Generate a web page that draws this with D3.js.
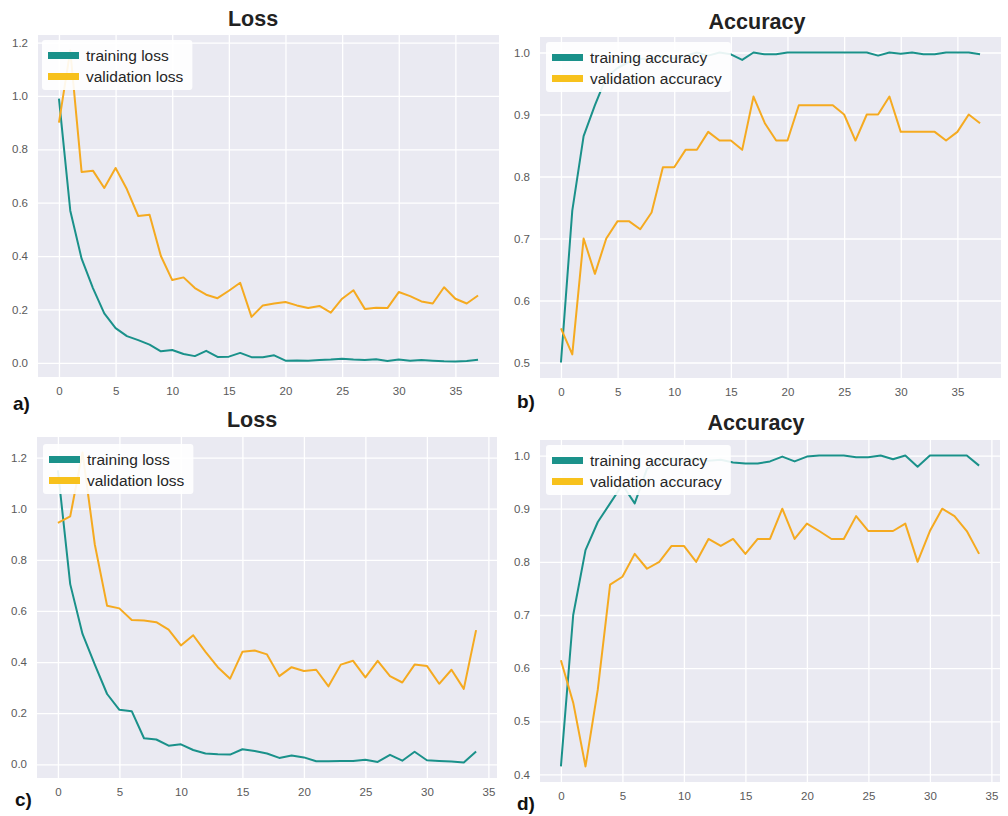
<!DOCTYPE html>
<html>
<head>
<meta charset="utf-8">
<script src="https://cdn.jsdelivr.net/npm/d3@7"></script>
<style>
body{margin:0;background:#ffffff;}
</style>
</head>
<body>
<svg id="chart"></svg>
<script>
// a) loss, first run
var lossTrainA=[0.99,0.57,0.39,0.28,0.185,0.13,0.10,0.085,0.068,0.043,0.048,0.033,0.025,0.045,0.022,0.023,0.037,0.021,0.021,0.028,0.008,0.009,0.008,0.010,0.012,0.015,0.012,0.010,0.013,0.007,0.012,0.008,0.010,0.008,0.006,0.005,0.007,0.011];
var lossValA=[0.90,1.17,0.715,0.72,0.655,0.73,0.65,0.55,0.555,0.40,0.31,0.32,0.28,0.255,0.242,0.27,0.30,0.172,0.215,0.222,0.228,0.215,0.205,0.213,0.188,0.24,0.272,0.202,0.206,0.205,0.265,0.25,0.23,0.222,0.283,0.24,0.222,0.252];
// b) accuracy, first run
var accTrainB=[0.50,0.745,0.865,0.915,0.96,0.975,0.985,0.99,0.99,0.995,0.99,0.995,1.0,0.995,1.0,0.997,0.988,1.0,0.997,0.997,1.0,1.0,1.0,1.0,1.0,1.0,1.0,1.0,0.995,1.0,0.998,1.0,0.997,0.997,1.0,1.0,1.0,0.997];
var accValB=[0.555,0.513,0.70,0.643,0.70,0.728,0.728,0.715,0.742,0.815,0.815,0.843,0.843,0.872,0.858,0.858,0.843,0.929,0.886,0.858,0.858,0.915,0.915,0.915,0.915,0.90,0.858,0.90,0.90,0.929,0.872,0.872,0.872,0.872,0.858,0.872,0.90,0.886];
// c) loss, second run
var lossTrainC=[1.15,0.705,0.51,0.39,0.275,0.213,0.208,0.102,0.097,0.073,0.078,0.056,0.042,0.039,0.038,0.059,0.052,0.042,0.025,0.034,0.027,0.012,0.012,0.013,0.013,0.018,0.009,0.037,0.014,0.049,0.016,0.013,0.011,0.007,0.05];
var lossValC=[0.945,0.97,1.22,0.86,0.62,0.61,0.565,0.563,0.556,0.527,0.465,0.505,0.44,0.38,0.335,0.44,0.445,0.43,0.345,0.38,0.365,0.37,0.305,0.39,0.405,0.34,0.405,0.345,0.32,0.39,0.385,0.315,0.37,0.295,0.525];
// d) accuracy, second run
var accTrainD=[0.415,0.70,0.822,0.875,0.91,0.945,0.91,0.975,0.99,0.995,0.99,0.995,0.99,0.992,0.987,0.985,0.985,0.989,0.998,0.989,0.998,1.0,1.0,1.0,0.997,0.997,1.0,0.993,1.0,0.979,1.0,1.0,1.0,1.0,0.981];
var accValD=[0.615,0.535,0.415,0.56,0.757,0.772,0.815,0.787,0.80,0.83,0.83,0.80,0.843,0.83,0.843,0.815,0.843,0.843,0.90,0.843,0.872,0.858,0.843,0.843,0.886,0.858,0.858,0.858,0.872,0.80,0.858,0.90,0.886,0.858,0.815];

var xTicks=[0,5,10,15,20,25,30,35];
var yTicksLoss=[0,0.2,0.4,0.6,0.8,1.0,1.2];
var yTicksAccB=[0.5,0.6,0.7,0.8,0.9,1.0];
var yTicksAccD=[0.4,0.5,0.6,0.7,0.8,0.9,1.0];
var legendLoss=["training loss","validation loss"];
var legendAcc=["training accuracy","validation accuracy"];

var tealColor="#1a918a";
var goldColor="#f5aa20";
var goldSwatch="#f7c11c";
var fontName="'Liberation Sans', Arial, sans-serif";

var svg=d3.select("#chart").attr("width",1008).attr("height",816);
svg.append("rect").attr("width",1008).attr("height",816).attr("fill","#ffffff");

function drawPanel(p) {
var n=p.train.length-1;
var ext=d3.extent(p.train.concat(p.val));
var pad=(ext[1]-ext[0])*0.05;
var x=d3.scaleLinear().domain([-0.05*n,n*1.05]).range([p.left,p.right]);
var y=d3.scaleLinear().domain([ext[0]-pad,ext[1]+pad]).range([p.bottom,p.top]);
var g=svg.append("g");
g.append("rect").attr("x",p.left).attr("y",p.top).attr("width",p.right-p.left).attr("height",p.bottom-p.top).attr("fill","#eaeaf2");

var ya=g.append("g").attr("transform","translate("+p.left+",0)")
	.call(d3.axisLeft(y).tickValues(p.yTicks).tickFormat(d3.format(".1f")).tickSize(-(p.right-p.left)).tickPadding(10));
var xa=g.append("g").attr("transform","translate(0,"+p.bottom+")")
	.call(d3.axisBottom(x).tickValues(xTicks).tickFormat(d3.format("d")).tickSize(-(p.bottom-p.top)).tickPadding(10));
[ya,xa].forEach(function(a){
	a.select(".domain").remove();
	a.selectAll("line").attr("stroke","#ffffff").attr("stroke-width",1.3);
	a.selectAll("text").attr("fill","#5a5a5a").attr("font-family",fontName).attr("font-size","11.5px");
});

var line=d3.line().x(function(d,i){return x(i);}).y(function(d){return y(d);});
g.append("path").datum(p.train).attr("d",line).attr("fill","none").attr("stroke",tealColor).attr("stroke-width",2).attr("stroke-linejoin","round");
g.append("path").datum(p.val).attr("d",line).attr("fill","none").attr("stroke",goldColor).attr("stroke-width",2).attr("stroke-linejoin","round");

// legend
var lg=g.append("g").attr("transform","translate("+p.legX+","+p.legY+")");
var box=lg.append("rect").attr("rx",3).attr("fill","#ffffff").attr("fill-opacity",0.9).attr("height",50);
var sw=[tealColor,goldSwatch];
var maxW=0;
p.legend.forEach(function(t,i){
	lg.append("rect").attr("x",6).attr("y",12+i*21).attr("width",31).attr("height",7).attr("fill",sw[i]);
	var tx=lg.append("text").attr("x",44).attr("y",21+i*21).text(t).attr("font-family",fontName).attr("font-size","15.5px").attr("fill","#262626");
	maxW=Math.max(maxW,tx.node().getComputedTextLength());
});
box.attr("width",44+maxW+9);

g.append("text").attr("x",p.titleX).attr("y",p.titleY).attr("text-anchor","middle").text(p.title)
	.attr("font-family",fontName).attr("font-weight","bold").attr("font-size","21.5px").attr("fill","#222222");
g.append("text").attr("x",p.labX).attr("y",p.labY).text(p.label)
	.attr("font-family",fontName).attr("font-weight","bold").attr("font-size","19px").attr("fill","#111111");
}

drawPanel({train:lossTrainA,val:lossValA,yTicks:yTicksLoss,legend:legendLoss,title:"Loss",label:"a)",
	left:38,right:499,top:35,bottom:377,legX:42,legY:40,titleX:253,titleY:26,labX:13,labY:410});
drawPanel({train:accTrainB,val:accValB,yTicks:yTicksAccB,legend:legendAcc,title:"Accuracy",label:"b)",
	left:540,right:1001,top:37,bottom:378,legX:546,legY:42,titleX:757,titleY:29,labX:517,labY:408});
drawPanel({train:lossTrainC,val:lossValC,yTicks:yTicksLoss,legend:legendLoss,title:"Loss",label:"c)",
	left:37,right:497,top:437,bottom:778,legX:43,legY:444,titleX:252,titleY:427,labX:15,labY:806});
drawPanel({train:accTrainD,val:accValD,yTicks:yTicksAccD,legend:legendAcc,title:"Accuracy",label:"d)",
	left:540,right:1000,top:440,bottom:782,legX:546,legY:445,titleX:756,titleY:430,labX:517,labY:810});
</script>
</body>
</html>
